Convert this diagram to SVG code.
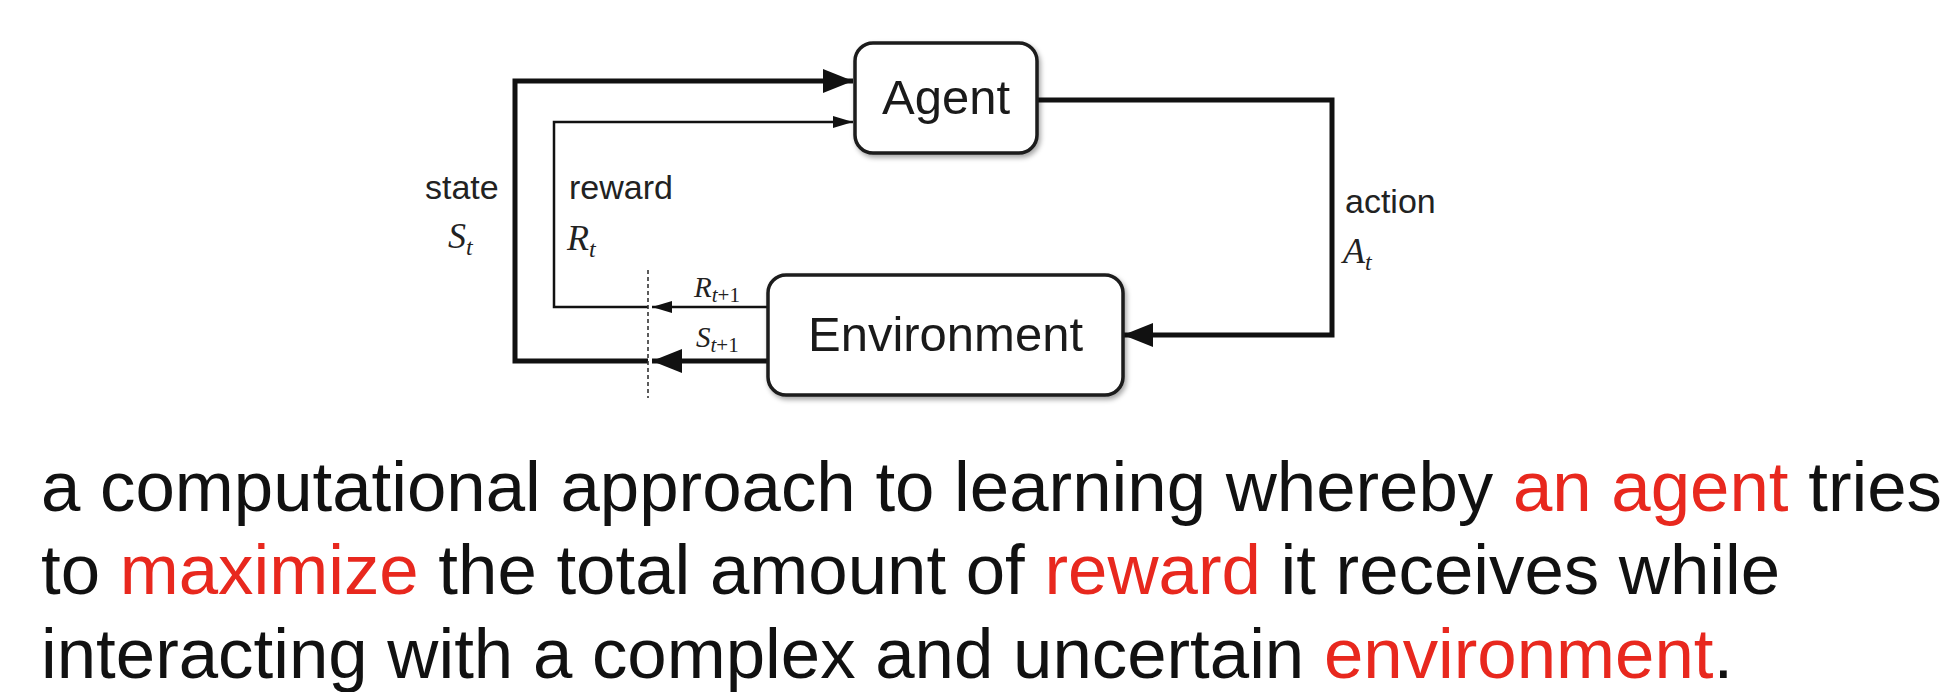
<svg xmlns="http://www.w3.org/2000/svg" width="1950" height="692" viewBox="0 0 1950 692">
<defs>
<style>
.box{fill:#fff;stroke:#1a1a1a;stroke-width:3.5;}
.node-label{font-family:"Liberation Sans",Arial,sans-serif;font-size:49px;fill:#1a1a1a;text-anchor:middle;}
.lbl{font-family:"Liberation Sans",Arial,sans-serif;font-size:34px;fill:#222;}
.math{font-family:"Liberation Serif","Times New Roman",serif;font-style:italic;fill:#222;}
.up{font-style:normal;}
.thick{fill:none;stroke:#111;stroke-width:5;stroke-linejoin:miter;}
.thin{fill:none;stroke:#111;stroke-width:2.5;stroke-linejoin:miter;}
.body{font-family:"Liberation Sans",Arial,sans-serif;font-size:70.8px;fill:#111;}
.red{fill:#e8281e;}
</style>
<filter id="shadow" x="-10%" y="-10%" width="130%" height="140%">
<feDropShadow dx="2" dy="3" stdDeviation="2.5" flood-color="#000" flood-opacity="0.35"/>
</filter>
<marker id="big" markerUnits="userSpaceOnUse" markerWidth="30" markerHeight="24" viewBox="0 0 30 24" refX="30" refY="12" orient="auto">
<path d="M0,0 L30,12 L0,24 z" fill="#111"/>
</marker>
<marker id="small" markerUnits="userSpaceOnUse" markerWidth="20" markerHeight="12" viewBox="0 0 20 12" refX="20" refY="6" orient="auto">
<path d="M0,0 L20,6 L0,12 z" fill="#111"/>
</marker>
</defs>
<rect width="1950" height="692" fill="#fff"/>

<g id="connectors">
<path class="thick" d="M648,361 H515 V81 H853" marker-end="url(#big)"/>
<path class="thick" d="M768,361 H652" marker-end="url(#big)"/>
<path class="thin" d="M648,307 H554 V122 H853" marker-end="url(#small)"/>
<path class="thin" d="M768,307 H652" marker-end="url(#small)"/>
<path class="thick" d="M1037,100 H1332 V335 H1123" marker-end="url(#big)"/>
<line x1="648" y1="270" x2="648" y2="398" stroke="#333" stroke-width="1.6" stroke-dasharray="4 3"/>
</g>

<g id="connector-labels">
<text class="lbl" x="425" y="199">state</text>
<text class="math" x="448" y="248" font-size="36">S<tspan font-size="24" dy="7">t</tspan></text>
<text class="lbl" x="569" y="199">reward</text>
<text class="math" x="567" y="250" font-size="36">R<tspan font-size="24" dy="7">t</tspan></text>
<text class="lbl" x="1345" y="213">action</text>
<text class="math" x="1343" y="263" font-size="36">A<tspan font-size="24" dy="7">t</tspan></text>
<text class="math" x="694" y="297" font-size="29">R<tspan font-size="21" dy="5">t</tspan><tspan class="up" font-size="21">+1</tspan></text>
<text class="math" x="696" y="347" font-size="29">S<tspan font-size="21" dy="5">t</tspan><tspan class="up" font-size="21">+1</tspan></text>
</g>

<g id="agent">
<rect class="box" x="855" y="43" width="182" height="110" rx="18" filter="url(#shadow)"/>
<text class="node-label" x="946" y="114">Agent</text>
</g>

<g id="environment">
<rect class="box" x="768" y="275" width="355" height="120" rx="18" filter="url(#shadow)"/>
<text class="node-label" x="945.5" y="351">Environment</text>
</g>

<g id="caption">
<text class="body" x="41" y="511">a computational approach to learning whereby <tspan class="red">an agent</tspan> tries</text>
<text class="body" x="41" y="594">to <tspan class="red">maximize</tspan> the total amount of <tspan class="red">reward</tspan> it receives while</text>
<text class="body" x="41" y="678">interacting with a complex and uncertain <tspan class="red">environment</tspan>.</text>
</g>
</svg>
